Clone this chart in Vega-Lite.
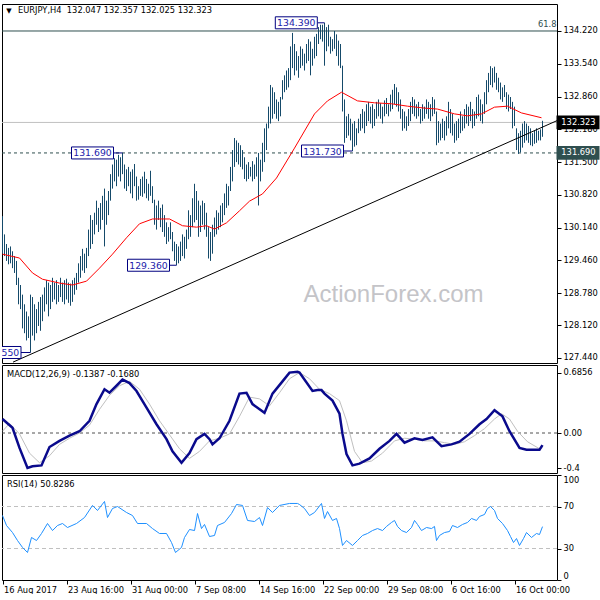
{
"$schema": "https://vega.github.io/schema/vega-lite/v6.json",
"padding": {"left": -3, "top": 3, "right": 0, "bottom": 0},
"autosize": {"type": "pad"},
"bounds": "flush",
"spacing": 2,
"background": "white",
"config": {
  "view": {"stroke": "#000000", "strokeWidth": 1},
  "axis": {"labelFont": "DejaVu Sans", "labelFontSize": 8.3, "labelColor": "#000000", "tickColor": "#000000", "tickSize": 4, "labelPadding": 2, "labelOverlap": false, "labelBound": false, "domain": false, "grid": false}
},
"datasets": {
"bars": [
{"i":0,"h":130.38,"l":129.6},{"i":1,"h":130.0,"l":129.55},{"i":2,"h":129.8,"l":129.45},{"i":3,"h":129.72,"l":129.38},{"i":4,"h":129.75,"l":129.4},{"i":5,"h":129.65,"l":129.3},{"i":6,"h":129.55,"l":129.2},{"i":7,"h":129.45,"l":128.95},{"i":8,"h":129.1,"l":128.55},{"i":9,"h":128.95,"l":128.45},
{"i":10,"h":128.75,"l":128.05},{"i":11,"h":128.55,"l":127.95},{"i":12,"h":128.4,"l":127.8},{"i":13,"h":128.3,"l":127.85},{"i":14,"h":128.75,"l":127.55},{"i":15,"h":128.7,"l":127.9},{"i":16,"h":128.55,"l":127.8},{"i":17,"h":128.45,"l":127.95},{"i":18,"h":128.6,"l":128.1},{"i":19,"h":128.7,"l":128.0},
{"i":20,"h":128.75,"l":128.2},{"i":21,"h":128.9,"l":128.4},{"i":22,"h":129.05,"l":128.55},{"i":23,"h":129.0,"l":128.3},{"i":24,"h":128.95,"l":128.45},{"i":25,"h":129.1,"l":128.6},{"i":26,"h":129.0,"l":128.65},{"i":27,"h":129.05,"l":128.55},{"i":28,"h":128.95,"l":128.6},{"i":29,"h":129.1,"l":128.7},
{"i":30,"h":129.0,"l":128.6},{"i":31,"h":129.05,"l":128.55},{"i":32,"h":129.08,"l":128.65},{"i":33,"h":129.0,"l":128.58},{"i":34,"h":128.98,"l":128.52},{"i":35,"h":129.05,"l":128.6},{"i":36,"h":129.1,"l":128.75},{"i":37,"h":129.2,"l":128.85},{"i":38,"h":129.4,"l":129.0},{"i":39,"h":129.55,"l":129.1},
{"i":40,"h":129.7,"l":129.25},{"i":41,"h":129.6,"l":129.2},{"i":42,"h":129.72,"l":129.3},{"i":43,"h":130.1,"l":129.55},{"i":44,"h":130.4,"l":129.7},{"i":45,"h":130.3,"l":129.8},{"i":46,"h":130.45,"l":130.0},{"i":47,"h":130.7,"l":130.2},{"i":48,"h":130.55,"l":130.05},{"i":49,"h":130.65,"l":130.1},
{"i":50,"h":130.8,"l":130.3},{"i":51,"h":130.95,"l":129.75},{"i":52,"h":130.7,"l":130.2},{"i":53,"h":130.9,"l":130.4},{"i":54,"h":131.25,"l":130.7},{"i":55,"h":131.45,"l":130.95},{"i":56,"h":131.58,"l":131.1},{"i":57,"h":131.55,"l":131.0},{"i":58,"h":131.65,"l":131.2},{"i":59,"h":131.6,"l":131.1},
{"i":60,"h":131.69,"l":131.25},{"i":61,"h":131.45,"l":130.95},{"i":62,"h":131.35,"l":130.9},{"i":63,"h":131.4,"l":131.0},{"i":64,"h":131.3,"l":130.85},{"i":65,"h":131.35,"l":130.75},{"i":66,"h":131.46,"l":131.0},{"i":67,"h":131.2,"l":130.7},{"i":68,"h":131.0,"l":130.72},{"i":69,"h":131.15,"l":130.8},
{"i":70,"h":131.2,"l":130.78},{"i":71,"h":131.3,"l":130.85},{"i":72,"h":131.15,"l":130.75},{"i":73,"h":131.05,"l":130.7},{"i":74,"h":131.32,"l":130.8},{"i":75,"h":131.0,"l":130.65},{"i":76,"h":130.72,"l":130.2},{"i":77,"h":130.6,"l":130.1},{"i":78,"h":130.7,"l":130.3},{"i":79,"h":130.55,"l":130.15},
{"i":80,"h":130.62,"l":130.05},{"i":81,"h":130.4,"l":129.95},{"i":82,"h":130.25,"l":129.8},{"i":83,"h":130.15,"l":129.85},{"i":84,"h":130.25,"l":129.9},{"i":85,"h":130.05,"l":129.65},{"i":86,"h":129.85,"l":129.45},{"i":87,"h":129.8,"l":129.36},{"i":88,"h":129.75,"l":129.4},{"i":89,"h":129.85,"l":129.45},
{"i":90,"h":130.0,"l":129.55},{"i":91,"h":129.95,"l":129.5},{"i":92,"h":130.1,"l":129.7},{"i":93,"h":130.5,"l":129.9},{"i":94,"h":130.4,"l":129.95},{"i":95,"h":130.75,"l":130.15},{"i":96,"h":131.05,"l":130.25},{"i":97,"h":130.9,"l":130.3},{"i":98,"h":130.7,"l":129.95},{"i":99,"h":130.6,"l":130.05},
{"i":100,"h":130.7,"l":130.2},{"i":101,"h":130.65,"l":130.1},{"i":102,"h":130.45,"l":129.95},{"i":103,"h":130.15,"l":129.5},{"i":104,"h":130.05,"l":129.45},{"i":105,"h":130.2,"l":129.6},{"i":106,"h":130.35,"l":129.95},{"i":107,"h":130.5,"l":130.0},{"i":108,"h":130.45,"l":130.1},{"i":109,"h":130.6,"l":130.15},
{"i":110,"h":130.65,"l":130.25},{"i":111,"h":130.85,"l":130.4},{"i":112,"h":131.05,"l":130.55},{"i":113,"h":131.0,"l":130.6},{"i":114,"h":131.4,"l":130.9},{"i":115,"h":131.75,"l":131.1},{"i":116,"h":132.0,"l":131.4},{"i":117,"h":131.95,"l":131.5},{"i":118,"h":131.9,"l":131.45},{"i":119,"h":131.85,"l":131.4},
{"i":120,"h":131.75,"l":131.35},{"i":121,"h":131.6,"l":131.15},{"i":122,"h":131.45,"l":131.1},{"i":123,"h":131.5,"l":131.15},{"i":124,"h":131.4,"l":131.2},{"i":125,"h":131.52,"l":131.1},{"i":126,"h":131.45,"l":131.15},{"i":127,"h":131.6,"l":131.2},{"i":128,"h":131.69,"l":130.6},{"i":129,"h":131.55,"l":131.1},
{"i":130,"h":131.9,"l":131.3},{"i":131,"h":132.2,"l":131.5},{"i":132,"h":132.3,"l":131.75},{"i":133,"h":132.65,"l":132.2},{"i":134,"h":133.1,"l":132.3},{"i":135,"h":133.05,"l":132.4},{"i":136,"h":132.95,"l":132.5},{"i":137,"h":132.8,"l":132.4},{"i":138,"h":132.75,"l":132.35},{"i":139,"h":132.85,"l":132.45},
{"i":140,"h":133.2,"l":132.8},{"i":141,"h":133.3,"l":132.95},{"i":142,"h":133.4,"l":133.0},{"i":143,"h":133.45,"l":133.05},{"i":144,"h":133.9,"l":133.2},{"i":145,"h":134.18,"l":133.45},{"i":146,"h":133.95,"l":133.3},{"i":147,"h":133.8,"l":133.4},{"i":148,"h":133.7,"l":133.25},{"i":149,"h":133.9,"l":133.45},
{"i":150,"h":133.85,"l":133.5},{"i":151,"h":133.75,"l":133.4},{"i":152,"h":133.95,"l":133.55},{"i":153,"h":134.05,"l":133.6},{"i":154,"h":134.0,"l":133.3},{"i":155,"h":133.85,"l":133.5},{"i":156,"h":134.1,"l":133.65},{"i":157,"h":134.16,"l":133.7},{"i":158,"h":134.3,"l":133.95},{"i":159,"h":134.35,"l":134.05},
{"i":160,"h":134.35,"l":134.0},{"i":161,"h":134.39,"l":133.5},{"i":162,"h":134.3,"l":133.8},{"i":163,"h":134.35,"l":133.9},{"i":164,"h":134.1,"l":133.75},{"i":165,"h":134.05,"l":133.8},{"i":166,"h":134.22,"l":133.85},{"i":167,"h":134.15,"l":133.7},{"i":168,"h":134.02,"l":133.5},{"i":169,"h":133.95,"l":133.45},
{"i":170,"h":133.5,"l":132.55},{"i":171,"h":132.8,"l":131.9},{"i":172,"h":132.45,"l":132.0},{"i":173,"h":132.5,"l":132.05},{"i":174,"h":132.4,"l":131.95},{"i":175,"h":132.3,"l":131.73},{"i":176,"h":132.35,"l":131.82},{"i":177,"h":132.2,"l":131.85},{"i":178,"h":132.4,"l":132.1},{"i":179,"h":132.5,"l":132.15},
{"i":180,"h":132.6,"l":132.2},{"i":181,"h":132.55,"l":132.1},{"i":182,"h":132.7,"l":132.25},{"i":183,"h":132.75,"l":132.35},{"i":184,"h":132.65,"l":132.3},{"i":185,"h":132.7,"l":132.2},{"i":186,"h":132.6,"l":132.25},{"i":187,"h":132.75,"l":132.4},{"i":188,"h":132.8,"l":132.45},{"i":189,"h":132.72,"l":132.4},
{"i":190,"h":132.65,"l":132.3},{"i":191,"h":132.78,"l":132.45},{"i":192,"h":132.83,"l":132.5},{"i":193,"h":132.7,"l":132.45},{"i":194,"h":132.9,"l":132.55},{"i":195,"h":133.0,"l":132.6},{"i":196,"h":133.12,"l":132.7},{"i":197,"h":133.05,"l":132.65},{"i":198,"h":132.95,"l":132.55},{"i":199,"h":132.8,"l":132.4},
{"i":200,"h":132.6,"l":132.15},{"i":201,"h":132.55,"l":132.2},{"i":202,"h":132.45,"l":132.15},{"i":203,"h":132.6,"l":132.25},{"i":204,"h":132.75,"l":132.35},{"i":205,"h":132.85,"l":132.5},{"i":206,"h":132.8,"l":132.45},{"i":207,"h":132.7,"l":132.4},{"i":208,"h":132.75,"l":132.45},{"i":209,"h":132.6,"l":132.3},
{"i":210,"h":132.7,"l":132.35},{"i":211,"h":132.65,"l":132.4},{"i":212,"h":132.8,"l":132.5},{"i":213,"h":132.75,"l":132.4},{"i":214,"h":132.7,"l":132.35},{"i":215,"h":132.85,"l":132.45},{"i":216,"h":132.8,"l":132.5},{"i":217,"h":132.55,"l":131.85},{"i":218,"h":132.35,"l":131.9},{"i":219,"h":132.3,"l":131.95},
{"i":220,"h":132.4,"l":132.0},{"i":221,"h":132.35,"l":131.95},{"i":222,"h":132.45,"l":132.05},{"i":223,"h":132.75,"l":132.2},{"i":224,"h":132.6,"l":132.1},{"i":225,"h":132.5,"l":132.05},{"i":226,"h":132.3,"l":131.9},{"i":227,"h":132.35,"l":131.95},{"i":228,"h":132.4,"l":132.0},{"i":229,"h":132.55,"l":132.1},
{"i":230,"h":132.45,"l":132.15},{"i":231,"h":132.6,"l":132.2},{"i":232,"h":132.7,"l":132.3},{"i":233,"h":132.65,"l":132.25},{"i":234,"h":132.75,"l":132.35},{"i":235,"h":132.6,"l":132.2},{"i":236,"h":132.55,"l":132.25},{"i":237,"h":132.85,"l":132.4},{"i":238,"h":132.9,"l":132.45},{"i":239,"h":132.8,"l":132.35},
{"i":240,"h":132.7,"l":132.3},{"i":241,"h":132.95,"l":132.5},{"i":242,"h":133.2,"l":132.7},{"i":243,"h":133.35,"l":132.95},{"i":244,"h":133.49,"l":133.1},{"i":245,"h":133.45,"l":133.05},{"i":246,"h":133.48,"l":133.15},{"i":247,"h":133.35,"l":133.0},{"i":248,"h":133.25,"l":132.95},{"i":249,"h":133.15,"l":132.8},
{"i":250,"h":133.05,"l":132.75},{"i":251,"h":133.1,"l":132.85},{"i":252,"h":132.95,"l":132.6},{"i":253,"h":132.9,"l":132.55},{"i":254,"h":132.85,"l":132.6},{"i":255,"h":132.75,"l":132.2},{"i":256,"h":132.65,"l":132.25},{"i":257,"h":132.2,"l":131.75},{"i":258,"h":132.1,"l":131.67},{"i":259,"h":132.15,"l":131.7},
{"i":260,"h":132.3,"l":131.8},{"i":261,"h":132.35,"l":131.9},{"i":262,"h":132.3,"l":131.95},{"i":263,"h":132.25,"l":131.9},{"i":264,"h":132.2,"l":131.85},{"i":265,"h":132.1,"l":131.83},{"i":266,"h":132.15,"l":131.88},{"i":267,"h":132.2,"l":131.9},{"i":268,"h":132.15,"l":131.95},{"i":269,"h":132.18,"l":131.95},
{"i":270,"h":132.357,"l":132.025}
],
"ma": [
{"i":0,"v":129.59},{"i":8.5,"v":129.51},{"i":15,"v":129.2},{"i":20,"v":129.07},{"i":28.5,"v":128.99},{"i":35,"v":128.95},{"i":42,"v":129.03},{"i":48.5,"v":129.3},{"i":55,"v":129.59},{"i":62,"v":129.93},{"i":68.5,"v":130.22},{"i":75,"v":130.32},{"i":83.5,"v":130.32},{"i":90,"v":130.18},{"i":97,"v":130.15},{"i":102,"v":130.18},{"i":106,"v":130.11},{"i":112,"v":130.24},{"i":118.5,"v":130.49},{"i":123.5,"v":130.69},{"i":130,"v":130.84},{"i":137,"v":131.17},{"i":146,"v":131.79},{"i":156,"v":132.5},{"i":162.5,"v":132.77},{"i":169.5,"v":132.95},{"i":177.5,"v":132.77},{"i":186,"v":132.73},{"i":194.5,"v":132.71},{"i":202.5,"v":132.66},{"i":211,"v":132.62},{"i":217.5,"v":132.6},{"i":226,"v":132.5},{"i":232.5,"v":132.46},{"i":239.5,"v":132.5},{"i":246,"v":132.64},{"i":252.5,"v":132.66},{"i":259.5,"v":132.52},{"i":269.5,"v":132.42}
],
"macd": [
{"i":0,"v":0.16},{"i":5,"v":0.06},{"i":8.5,"v":-0.17},{"i":12.5,"v":-0.4},{"i":15,"v":-0.38},{"i":19.5,"v":-0.37},{"i":23.5,"v":-0.16},{"i":28.5,"v":-0.09},{"i":33.5,"v":-0.03},{"i":38.5,"v":0.02},{"i":43.5,"v":0.14},{"i":47,"v":0.33},{"i":51,"v":0.5},{"i":53.5,"v":0.46},{"i":57,"v":0.54},{"i":60,"v":0.61},{"i":63.5,"v":0.57},{"i":67,"v":0.48},{"i":72,"v":0.29},{"i":77,"v":0.1},{"i":82,"v":-0.07},{"i":85,"v":-0.21},{"i":89.5,"v":-0.34},{"i":93.5,"v":-0.23},{"i":97,"v":-0.07},{"i":101,"v":-0.01},{"i":103.5,"v":-0.07},{"i":105,"v":-0.13},{"i":108.5,"v":-0.06},{"i":113.5,"v":0.14},{"i":118.5,"v":0.45},{"i":122,"v":0.46},{"i":125,"v":0.33},{"i":131,"v":0.23},{"i":135,"v":0.45},{"i":140,"v":0.59},{"i":143.5,"v":0.69},{"i":147.5,"v":0.7},{"i":148.5,"v":0.69},{"i":155,"v":0.48},{"i":157.5,"v":0.49},{"i":159.5,"v":0.49},{"i":161,"v":0.45},{"i":165,"v":0.37},{"i":168.5,"v":0.22},{"i":170,"v":-0.01},{"i":172,"v":-0.24},{"i":175,"v":-0.37},{"i":178.5,"v":-0.35},{"i":183.5,"v":-0.29},{"i":188.5,"v":-0.18},{"i":193.5,"v":-0.09},{"i":197,"v":-0.01},{"i":201,"v":-0.11},{"i":206,"v":-0.06},{"i":210,"v":-0.08},{"i":215,"v":-0.05},{"i":219.5,"v":-0.15},{"i":224.5,"v":-0.13},{"i":228.5,"v":-0.1},{"i":233.5,"v":-0.01},{"i":238.5,"v":0.1},{"i":242,"v":0.16},{"i":246,"v":0.26},{"i":250,"v":0.19},{"i":253.5,"v":0.02},{"i":258.5,"v":-0.17},{"i":262,"v":-0.19},{"i":268.5,"v":-0.19},{"i":270,"v":-0.1387}
],
"sig": [
{"i":0,"v":0.02},{"i":3.5,"v":0.11},{"i":8.5,"v":-0.01},{"i":13.5,"v":-0.23},{"i":18.5,"v":-0.34},{"i":23.5,"v":-0.26},{"i":28.5,"v":-0.13},{"i":33.5,"v":-0.06},{"i":38.5,"v":0.0},{"i":43.5,"v":0.09},{"i":48.5,"v":0.27},{"i":53.5,"v":0.43},{"i":58.5,"v":0.54},{"i":63.5,"v":0.59},{"i":68.5,"v":0.5},{"i":73.5,"v":0.33},{"i":78.5,"v":0.14},{"i":83.5,"v":-0.02},{"i":88.5,"v":-0.18},{"i":93.5,"v":-0.29},{"i":98.5,"v":-0.21},{"i":103.5,"v":-0.09},{"i":108.5,"v":-0.06},{"i":113.5,"v":-0.01},{"i":118.5,"v":0.19},{"i":123.5,"v":0.41},{"i":128.5,"v":0.39},{"i":133.5,"v":0.31},{"i":138.5,"v":0.46},{"i":143.5,"v":0.62},{"i":148.5,"v":0.69},{"i":153.5,"v":0.62},{"i":158.5,"v":0.5},{"i":163.5,"v":0.45},{"i":168.5,"v":0.37},{"i":172,"v":0.14},{"i":176,"v":-0.21},{"i":180,"v":-0.34},{"i":184.5,"v":-0.32},{"i":190,"v":-0.23},{"i":196,"v":-0.09},{"i":201,"v":-0.06},{"i":206,"v":-0.07},{"i":211,"v":-0.09},{"i":216,"v":-0.09},{"i":221,"v":-0.11},{"i":226,"v":-0.13},{"i":231,"v":-0.1},{"i":236,"v":-0.03},{"i":241,"v":0.05},{"i":246,"v":0.16},{"i":249.5,"v":0.22},{"i":253.5,"v":0.16},{"i":257.5,"v":0.02},{"i":262.5,"v":-0.1},{"i":268.5,"v":-0.18},{"i":270,"v":-0.168}
],
"rsi": [
{"i":0,"v":61.4},{"i":2,"v":51.9},{"i":5,"v":45.2},{"i":7.5,"v":37.6},{"i":10,"v":31.0},{"i":12.5,"v":26.2},{"i":14.5,"v":40.5},{"i":17,"v":37.6},{"i":19.5,"v":44.3},{"i":22.5,"v":53.8},{"i":25,"v":47.1},{"i":27.5,"v":51.9},{"i":30,"v":53.8},{"i":32.5,"v":50.0},{"i":37,"v":53.8},{"i":41,"v":59.5},{"i":45,"v":71.0},{"i":47.5,"v":66.2},{"i":51,"v":74.8},{"i":52.5,"v":59.5},{"i":55,"v":68.1},{"i":57.5,"v":70.0},{"i":62,"v":64.3},{"i":65,"v":61.4},{"i":67.5,"v":53.8},{"i":72,"v":53.8},{"i":75,"v":49.0},{"i":78.5,"v":44.3},{"i":82,"v":44.3},{"i":84.5,"v":35.7},{"i":86.5,"v":26.2},{"i":89.5,"v":31.0},{"i":91,"v":40.5},{"i":93.5,"v":48.1},{"i":96,"v":47.1},{"i":97.5,"v":63.3},{"i":99.5,"v":49.0},{"i":101,"v":52.9},{"i":103.5,"v":41.4},{"i":106,"v":42.4},{"i":107.5,"v":51.9},{"i":111,"v":54.8},{"i":114.5,"v":63.3},{"i":117,"v":71.9},{"i":120,"v":71.0},{"i":122.5,"v":56.7},{"i":126,"v":55.7},{"i":128.5,"v":59.5},{"i":130,"v":51.9},{"i":132.5,"v":69.0},{"i":135,"v":64.3},{"i":138.5,"v":71.0},{"i":143.5,"v":72.9},{"i":147.5,"v":72.9},
{"i":148.5,"v":71.9},{"i":151,"v":68.1},{"i":153.5,"v":61.4},{"i":156,"v":64.3},{"i":159.5,"v":72.9},{"i":161,"v":58.6},{"i":162.5,"v":65.2},{"i":165,"v":56.7},{"i":167,"v":58.6},{"i":168.5,"v":49.0},{"i":170,"v":32.9},{"i":172,"v":37.6},{"i":175,"v":32.9},{"i":177.5,"v":37.6},{"i":180,"v":42.4},{"i":182.5,"v":44.3},{"i":185,"v":47.1},{"i":187.5,"v":49.0},{"i":190,"v":47.1},{"i":192,"v":51.0},{"i":194.5,"v":54.8},{"i":196,"v":56.7},{"i":197.5,"v":51.0},{"i":199.5,"v":47.1},{"i":202,"v":45.2},{"i":204.5,"v":50.0},{"i":206,"v":56.7},{"i":207.5,"v":52.9},{"i":209.5,"v":47.1},{"i":212,"v":50.0},{"i":214.5,"v":49.0},{"i":216,"v":51.0},{"i":217,"v":37.6},{"i":218.5,"v":42.4},{"i":221,"v":45.2},{"i":223.5,"v":46.2},{"i":225,"v":51.9},{"i":227.5,"v":50.0},{"i":230,"v":52.9},{"i":232.5,"v":54.8},{"i":234.5,"v":58.6},{"i":237,"v":56.7},{"i":238.5,"v":60.5},{"i":241,"v":62.4},{"i":242.5,"v":68.1},{"i":244,"v":70.0},{"i":246,"v":66.2},{"i":247.5,"v":58.6},{"i":250,"v":53.8},{"i":252.5,"v":47.1},{"i":254,"v":41.4},{"i":255.5,"v":35.7},{"i":257,"v":39.5},{"i":258.5,"v":32.9},{"i":260.5,"v":39.5},{"i":262,"v":45.2},{"i":264.5,"v":40.5},{"i":267,"v":44.3},{"i":268.5,"v":43.3},{"i":270,"v":50.83}
],
"ann": [
{"t":"134.390","p":134.39,"ic":146.9,"ir":157.6,"ib":161},
{"t":"131.690","p":131.69,"ic":45.0,"ir":55.4,"ib":60},
{"t":"129.360","p":129.36,"ic":73.0,"ir":83.4,"ib":87},
{"t":"127.550","p":127.55,"ic":-1.25,"ir":9.25,"ib":14},
{"t":"131.730","p":131.73,"ic":160.0,"ir":170.4,"ib":175}
]
},
"vconcat": [
{
"width": 555, "height": 359,
"layer": [
{"data": {"values": [{"p": 134.22}]}, "mark": {"type": "rule", "color": "#2F4F4F", "strokeWidth": 1},
 "encoding": {"y": {"field": "p", "type": "quantitative", "scale": {"domain": [127.332, 134.78], "nice": false, "zero": false}, "title": null, "axis": {"orient": "right", "values": [127.44, 128.12, 128.78, 129.46, 130.14, 130.82, 131.5, 132.18, 132.86, 133.54, 134.22], "format": ".3f", "labelOverlap": false, "labelFlush": false, "labelBound": false, "title": null}}}},
{"data": {"values": [{"p": 132.323}]}, "mark": {"type": "rule", "color": "#C0C0C0", "strokeWidth": 1},
 "encoding": {"y": {"field": "p", "type": "quantitative", "scale": {"domain": [127.332, 134.78], "nice": false, "zero": false}, "title": null, "axis": {"orient": "right", "values": [127.44, 128.12, 128.78, 129.46, 130.14, 130.82, 131.5, 132.18, 132.86, 133.54, 134.22], "format": ".3f", "labelOverlap": false, "labelFlush": false, "labelBound": false, "title": null}}}},
{"data": {"values": [{"p": 131.69}]}, "mark": {"type": "rule", "color": "#2F4F4F", "strokeWidth": 1, "strokeDash": [3, 3]},
 "encoding": {"y": {"field": "p", "type": "quantitative", "scale": {"domain": [127.332, 134.78], "nice": false, "zero": false}, "title": null, "axis": {"orient": "right", "values": [127.44, 128.12, 128.78, 129.46, 130.14, 130.82, 131.5, 132.18, 132.86, 133.54, 134.22], "format": ".3f", "labelOverlap": false, "labelFlush": false, "labelBound": false, "title": null}}}},
{"data": {"name": "bars"}, "mark": {"type": "rule", "color": "#154a6a", "strokeWidth": 1},
 "encoding": {
  "x": {"field": "i", "type": "quantitative", "scale": {"domain": [-0.25, 277.25], "nice": false, "zero": false}, "axis": null},
  "y": {"field": "l", "type": "quantitative", "scale": {"domain": [127.332, 134.78], "nice": false, "zero": false}, "title": null, "axis": {"orient": "right", "values": [127.44, 128.12, 128.78, 129.46, 130.14, 130.82, 131.5, 132.18, 132.86, 133.54, 134.22], "format": ".3f", "labelOverlap": false, "labelFlush": false, "labelBound": false, "title": null}},
  "y2": {"field": "h"}}},
{"data": {"name": "ma"}, "mark": {"type": "line", "color": "#FF0000", "strokeWidth": 1},
 "encoding": {
  "x": {"field": "i", "type": "quantitative", "scale": {"domain": [-0.25, 277.25], "nice": false, "zero": false}, "axis": null},
  "y": {"field": "v", "type": "quantitative", "scale": {"domain": [127.332, 134.78], "nice": false, "zero": false}, "title": null, "axis": {"orient": "right", "values": [127.44, 128.12, 128.78, 129.46, 130.14, 130.82, 131.5, 132.18, 132.86, 133.54, 134.22], "format": ".3f", "labelOverlap": false, "labelFlush": false, "labelBound": false, "title": null}}}},
{"data": {"values": [{"i1": 5.25, "p1": 127.35, "i2": 277.25, "p2": 132.36}]}, "mark": {"type": "rule", "color": "#000000", "strokeWidth": 1, "clip": true},
 "encoding": {
  "x": {"field": "i1", "type": "quantitative", "scale": {"domain": [-0.25, 277.25], "nice": false, "zero": false}, "axis": null},
  "x2": {"field": "i2"},
  "y": {"field": "p1", "type": "quantitative", "scale": {"domain": [127.332, 134.78], "nice": false, "zero": false}, "title": null, "axis": {"orient": "right", "values": [127.44, 128.12, 128.78, 129.46, 130.14, 130.82, 131.5, 132.18, 132.86, 133.54, 134.22], "format": ".3f", "labelOverlap": false, "labelFlush": false, "labelBound": false, "title": null}},
  "y2": {"field": "p2"}}},
{"data": {"name": "ann"}, "mark": {"type": "rule", "color": "#000080", "strokeWidth": 1, "clip": true},
 "encoding": {
  "x": {"field": "ir", "type": "quantitative", "scale": {"domain": [-0.25, 277.25], "nice": false, "zero": false}, "axis": null},
  "x2": {"field": "ib"},
  "y": {"field": "p", "type": "quantitative", "scale": {"domain": [127.332, 134.78], "nice": false, "zero": false}, "title": null, "axis": {"orient": "right", "values": [127.44, 128.12, 128.78, 129.46, 130.14, 130.82, 131.5, 132.18, 132.86, 133.54, 134.22], "format": ".3f", "labelOverlap": false, "labelFlush": false, "labelBound": false, "title": null}}}},
{"data": {"name": "ann"}, "mark": {"type": "point", "shape": "M-1,-0.2857H1V0.2857H-1Z", "size": 1764, "filled": true, "fill": "#FFFFFF", "stroke": "#000080", "strokeWidth": 1, "opacity": 1, "clip": true},
 "encoding": {
  "x": {"field": "ic", "type": "quantitative", "scale": {"domain": [-0.25, 277.25], "nice": false, "zero": false}, "axis": null},
  "y": {"field": "p", "type": "quantitative", "scale": {"domain": [127.332, 134.78], "nice": false, "zero": false}, "title": null, "axis": {"orient": "right", "values": [127.44, 128.12, 128.78, 129.46, 130.14, 130.82, 131.5, 132.18, 132.86, 133.54, 134.22], "format": ".3f", "labelOverlap": false, "labelFlush": false, "labelBound": false, "title": null}}}},
{"data": {"name": "ann"}, "mark": {"type": "text", "font": "DejaVu Sans", "fontSize": 9.3, "color": "#1c1caa", "align": "center", "baseline": "middle", "dy": 0.5, "clip": true},
 "encoding": {
  "x": {"field": "ic", "type": "quantitative", "scale": {"domain": [-0.25, 277.25], "nice": false, "zero": false}, "axis": null},
  "y": {"field": "p", "type": "quantitative", "scale": {"domain": [127.332, 134.78], "nice": false, "zero": false}, "title": null, "axis": {"orient": "right", "values": [127.44, 128.12, 128.78, 129.46, 130.14, 130.82, 131.5, 132.18, 132.86, 133.54, 134.22], "format": ".3f", "labelOverlap": false, "labelFlush": false, "labelBound": false, "title": null}},
  "text": {"field": "t"}}},
{"data": {"values": [{}]}, "mark": {"type": "text", "text": "ActionForex.com", "font": "Liberation Sans", "fontSize": 24, "color": "#c4c4c8", "align": "center", "baseline": "middle"},
 "encoding": {
  "x": {"datum": 195.5, "type": "quantitative", "scale": {"domain": [-0.25, 277.25], "nice": false, "zero": false}, "axis": null},
  "y": {"datum": 128.74, "type": "quantitative", "scale": {"domain": [127.332, 134.78], "nice": false, "zero": false}, "title": null, "axis": {"orient": "right", "values": [127.44, 128.12, 128.78, 129.46, 130.14, 130.82, 131.5, 132.18, 132.86, 133.54, 134.22], "format": ".3f", "labelOverlap": false, "labelFlush": false, "labelBound": false, "title": null}}}},
{"data": {"values": [{}]}, "mark": {"type": "text", "text": "61.8", "font": "DejaVu Sans", "fontSize": 8.3, "color": "#2F4F4F", "align": "right", "baseline": "bottom", "dy": -2},
 "encoding": {
  "x": {"datum": 277, "type": "quantitative", "scale": {"domain": [-0.25, 277.25], "nice": false, "zero": false}, "axis": null},
  "y": {"datum": 134.22, "type": "quantitative", "scale": {"domain": [127.332, 134.78], "nice": false, "zero": false}, "title": null, "axis": {"orient": "right", "values": [127.44, 128.12, 128.78, 129.46, 130.14, 130.82, 131.5, 132.18, 132.86, 133.54, 134.22], "format": ".3f", "labelOverlap": false, "labelFlush": false, "labelBound": false, "title": null}}}},
{"data": {"values": [{}]}, "mark": {"type": "text", "text": "▼", "font": "DejaVu Sans", "fontSize": 7, "color": "#000000", "align": "center", "baseline": "middle"},
 "encoding": {
  "x": {"datum": 3.25, "type": "quantitative", "scale": {"domain": [-0.25, 277.25], "nice": false, "zero": false}, "axis": null},
  "y": {"datum": 134.635, "type": "quantitative", "scale": {"domain": [127.332, 134.78], "nice": false, "zero": false}, "title": null, "axis": {"orient": "right", "values": [127.44, 128.12, 128.78, 129.46, 130.14, 130.82, 131.5, 132.18, 132.86, 133.54, 134.22], "format": ".3f", "labelOverlap": false, "labelFlush": false, "labelBound": false, "title": null}}}},
{"data": {"values": [{}]}, "mark": {"type": "text", "text": "EURJPY,H4\u00a0\u00a0132.047 132.357 132.025 132.323", "font": "DejaVu Sans", "fontSize": 8.3, "color": "#000000", "align": "left", "baseline": "middle"},
 "encoding": {
  "x": {"datum": 7.75, "type": "quantitative", "scale": {"domain": [-0.25, 277.25], "nice": false, "zero": false}, "axis": null},
  "y": {"datum": 134.635, "type": "quantitative", "scale": {"domain": [127.332, 134.78], "nice": false, "zero": false}, "title": null, "axis": {"orient": "right", "values": [127.44, 128.12, 128.78, 129.46, 130.14, 130.82, 131.5, 132.18, 132.86, 133.54, 134.22], "format": ".3f", "labelOverlap": false, "labelFlush": false, "labelBound": false, "title": null}}}},
{"data": {"values": [{"t": "132.323", "p": 132.323}]}, "mark": {"type": "point", "shape": "M-1,-0.285H1V0.285H-1Z", "size": 1681, "filled": true, "fill": "#000000", "stroke": "#000000", "opacity": 1},
 "encoding": {
  "x": {"datum": 287.75, "type": "quantitative", "scale": {"domain": [-0.25, 277.25], "nice": false, "zero": false}, "axis": null},
  "y": {"field": "p", "type": "quantitative", "scale": {"domain": [127.332, 134.78], "nice": false, "zero": false}, "title": null, "axis": {"orient": "right", "values": [127.44, 128.12, 128.78, 129.46, 130.14, 130.82, 131.5, 132.18, 132.86, 133.54, 134.22], "format": ".3f", "labelOverlap": false, "labelFlush": false, "labelBound": false, "title": null}}}},
{"data": {"values": [{"t": "131.690", "p": 131.69}]}, "mark": {"type": "point", "shape": "M-1,-0.285H1V0.285H-1Z", "size": 1681, "filled": true, "fill": "#2F4F4F", "stroke": "#2F4F4F", "opacity": 1},
 "encoding": {
  "x": {"datum": 287.75, "type": "quantitative", "scale": {"domain": [-0.25, 277.25], "nice": false, "zero": false}, "axis": null},
  "y": {"field": "p", "type": "quantitative", "scale": {"domain": [127.332, 134.78], "nice": false, "zero": false}, "title": null, "axis": {"orient": "right", "values": [127.44, 128.12, 128.78, 129.46, 130.14, 130.82, 131.5, 132.18, 132.86, 133.54, 134.22], "format": ".3f", "labelOverlap": false, "labelFlush": false, "labelBound": false, "title": null}}}},
{"data": {"values": [{"t": "132.323", "p": 132.323}, {"t": "131.690", "p": 131.69}]}, "mark": {"type": "text", "font": "DejaVu Sans", "fontSize": 8.3, "color": "#FFFFFF", "align": "center", "baseline": "middle", "dy": 0.5},
 "encoding": {
  "x": {"datum": 288.0, "type": "quantitative", "scale": {"domain": [-0.25, 277.25], "nice": false, "zero": false}, "axis": null},
  "y": {"field": "p", "type": "quantitative", "scale": {"domain": [127.332, 134.78], "nice": false, "zero": false}, "title": null, "axis": {"orient": "right", "values": [127.44, 128.12, 128.78, 129.46, 130.14, 130.82, 131.5, 132.18, 132.86, 133.54, 134.22], "format": ".3f", "labelOverlap": false, "labelFlush": false, "labelBound": false, "title": null}},
  "text": {"field": "t"}}}
]
},
{
"width": 555, "height": 108,
"layer": [
{"data": {"values": [{"v": 0}]}, "mark": {"type": "rule", "color": "#505050", "strokeWidth": 1, "strokeDash": [3, 3]},
 "encoding": {"y": {"field": "v", "type": "quantitative", "scale": {"domain": [-0.457, 0.777], "nice": false, "zero": false}, "title": null, "axis": {"orient": "right", "values": [0.6856, 0, -0.4], "labelExpr": "datum.value == 0 ? '0.00' : (datum.value < 0 ? '-0.4' : '0.6856')", "labelOverlap": false, "labelFlush": false, "labelBound": false, "title": null}}}},
{"data": {"name": "sig"}, "mark": {"type": "line", "color": "#C0C0C0", "strokeWidth": 1},
 "encoding": {
  "x": {"field": "i", "type": "quantitative", "scale": {"domain": [-0.25, 277.25], "nice": false, "zero": false}, "axis": null},
  "y": {"field": "v", "type": "quantitative", "scale": {"domain": [-0.457, 0.777], "nice": false, "zero": false}, "title": null, "axis": {"orient": "right", "values": [0.6856, 0, -0.4], "labelExpr": "datum.value == 0 ? '0.00' : (datum.value < 0 ? '-0.4' : '0.6856')", "labelOverlap": false, "labelFlush": false, "labelBound": false, "title": null}}}},
{"data": {"name": "macd"}, "mark": {"type": "line", "color": "#0a0a8c", "strokeWidth": 2.5},
 "encoding": {
  "x": {"field": "i", "type": "quantitative", "scale": {"domain": [-0.25, 277.25], "nice": false, "zero": false}, "axis": null},
  "y": {"field": "v", "type": "quantitative", "scale": {"domain": [-0.457, 0.777], "nice": false, "zero": false}, "title": null, "axis": {"orient": "right", "values": [0.6856, 0, -0.4], "labelExpr": "datum.value == 0 ? '0.00' : (datum.value < 0 ? '-0.4' : '0.6856')", "labelOverlap": false, "labelFlush": false, "labelBound": false, "title": null}}}},
{"data": {"values": [{}]}, "mark": {"type": "text", "text": "MACD(12,26,9) -0.1387 -0.1680", "font": "DejaVu Sans", "fontSize": 8.3, "color": "#000000", "align": "left", "baseline": "middle"},
 "encoding": {
  "x": {"datum": 2.25, "type": "quantitative", "scale": {"domain": [-0.25, 277.25], "nice": false, "zero": false}, "axis": null},
  "y": {"datum": 0.663, "type": "quantitative", "scale": {"domain": [-0.457, 0.777], "nice": false, "zero": false}, "title": null, "axis": {"orient": "right", "values": [0.6856, 0, -0.4], "labelExpr": "datum.value == 0 ? '0.00' : (datum.value < 0 ? '-0.4' : '0.6856')", "labelOverlap": false, "labelFlush": false, "labelBound": false, "title": null}}}}
]
},
{
"width": 555, "height": 105,
"layer": [
{"data": {"values": [{"v": 70}, {"v": 30}]}, "mark": {"type": "rule", "color": "#C0C0C0", "strokeWidth": 1, "strokeDash": [4, 3]},
 "encoding": {"y": {"field": "v", "type": "quantitative", "scale": {"domain": [0, 100], "nice": false, "zero": false}, "title": null, "axis": {"orient": "right", "values": [0, 30, 70, 100], "labelOverlap": false, "labelFlush": true, "labelBound": false, "title": null}}}},
{"data": {"name": "rsi"}, "mark": {"type": "line", "color": "#1E90FF", "strokeWidth": 1},
 "encoding": {
  "x": {"field": "i", "type": "quantitative", "scale": {"domain": [-0.25, 277.25], "nice": false, "zero": false}, "title": null,
        "axis": {"orient": "bottom", "values": [0, 32, 64, 96, 128, 160, 192, 224, 256], "labelExpr": "['16 Aug 2017','23 Aug 16:00','31 Aug 00:00','7 Sep 08:00','14 Sep 16:00','22 Sep 00:00','29 Sep 08:00','6 Oct 16:00','16 Oct 00:00'][round(datum.value/32)]", "labelAlign": "left", "labelOffset": 1, "labelPadding": 1, "labelOverlap": false, "labelBound": false, "labelFlush": false, "title": null}},
  "y": {"field": "v", "type": "quantitative", "scale": {"domain": [0, 100], "nice": false, "zero": false}, "title": null, "axis": {"orient": "right", "values": [0, 30, 70, 100], "labelOverlap": false, "labelFlush": true, "labelBound": false, "title": null}}}},
{"data": {"values": [{}]}, "mark": {"type": "text", "text": "RSI(14) 50.8286", "font": "DejaVu Sans", "fontSize": 8.3, "color": "#000000", "align": "left", "baseline": "middle"},
 "encoding": {
  "x": {"datum": 2.25, "type": "quantitative", "scale": {"domain": [-0.25, 277.25], "nice": false, "zero": false}, "title": null,
        "axis": {"orient": "bottom", "values": [0, 32, 64, 96, 128, 160, 192, 224, 256], "labelExpr": "['16 Aug 2017','23 Aug 16:00','31 Aug 00:00','7 Sep 08:00','14 Sep 16:00','22 Sep 00:00','29 Sep 08:00','6 Oct 16:00','16 Oct 00:00'][round(datum.value/32)]", "labelAlign": "left", "labelOffset": 1, "labelPadding": 1, "labelOverlap": false, "labelBound": false, "labelFlush": false, "title": null}},
  "y": {"datum": 90.5, "type": "quantitative", "scale": {"domain": [0, 100], "nice": false, "zero": false}, "title": null, "axis": {"orient": "right", "values": [0, 30, 70, 100], "labelOverlap": false, "labelFlush": true, "labelBound": false, "title": null}}}}
]
}
]
}
